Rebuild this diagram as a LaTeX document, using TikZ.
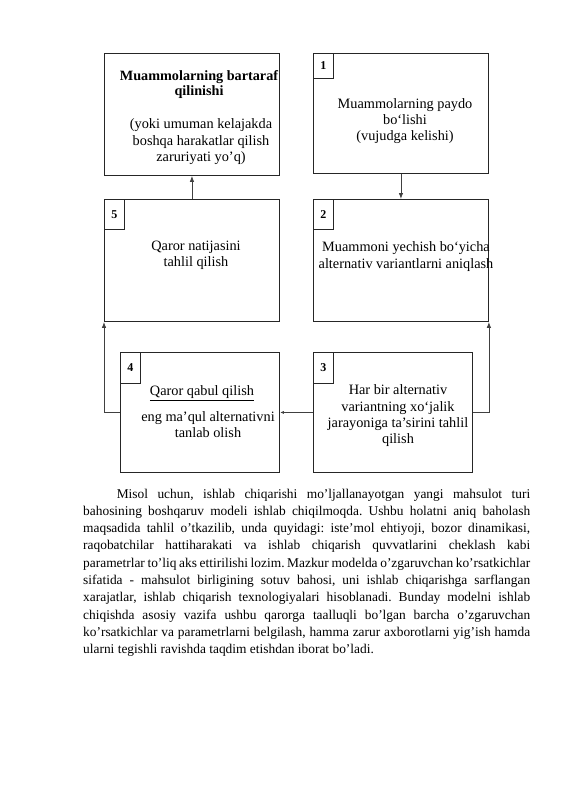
\documentclass[tikz,border=0pt]{standalone}
\usepackage{fontspec}
\setmainfont{Liberation Serif}
\usetikzlibrary{arrows.meta}

\tikzset{
  blok/.style={draw=black!85, line width=0.9pt, minimum width=175pt, minimum height=121pt, anchor=north west, inner sep=0pt},
  raqam/.style={draw=black!85, line width=0.8pt, minimum width=20pt, minimum height=30pt, anchor=north west, inner sep=0pt, font=\fontsize{12}{14}\selectfont\bfseries},
  matn/.style={align=center, inner sep=0pt, font=\fontsize{14.3}{16.3}\selectfont},
  bog/.style={draw=black!75, line width=0.8pt},
  uch/.style={-{Latex[length=6pt,width=4.5pt]}}
}

\begin{document}
\begin{tikzpicture}[x=1pt,y=-1pt]
  \useasboundingbox (0,0) rectangle (565,800);

  % Bloklar
  \node[blok, minimum height=122pt] (b0) at (104,53) {};
  \node[blok, minimum height=120pt] (b1) at (313,53) {};
  \node[blok, minimum height=122pt] (b5) at (104,199) {};
  \node[blok, minimum height=122pt] (b2) at (313,199) {};
  \node[blok, minimum width=159pt, minimum height=120pt] (b4) at (120,352) {};
  \node[blok, minimum width=159pt, minimum height=120pt] (b3) at (313,352) {};

  % Raqamlar
  \node[raqam, minimum height=25pt] (r1) at (b1.north west) {1};
  \node[raqam] (r2) at (b2.north west) {2};
  \node[raqam, minimum height=31pt] (r3) at (b3.north west) {3};
  \node[raqam, minimum height=31pt] (r4) at (b4.north west) {4};
  \node[raqam] (r5) at (b5.north west) {5};

  % Matnlar
  \node[matn, font=\fontsize{14.2}{15}\selectfont\bfseries] (t0a) at (199,84.5) {Muammolarning bartaraf\\qilinishi};
  \node[matn] (t0b) at (201,141.7) {(yoki umuman kelajakda\\boshqa harakatlar qilish\\zaruriyati yo’q)};
  \node[matn] (t1) at (405,121) {Muammolarning paydo\\bo‘lishi\\(vujudga kelishi)};
  \node[matn] (t5) at (196,255.5) {Qaror natijasini\\tahlil qilish};
  \node[matn] (t2) at (406,256.5) {Muammoni yechish bo‘yicha\\alternativ variantlarni aniqlash};
  \node[matn] (t4a) at (202,393) {\underline{Qaror qabul qilish}};
  \node[matn] (t4b) at (208,424.5) {eng ma’qul alternativni\\tanlab olish};
  \node[matn] (t3) at (398,416) {Har bir alternativ\\variantning xo‘jalik\\jarayoniga ta’sirini tahlil\\qilish};

  % Bog'lanishlar
  \draw[bog, uch] (b5.north) -- (b0.south);
  \draw[bog, uch] (b1.south) -- (b2.north);
  \draw[bog, uch] (b3.east) -| (b2.south east);
  \draw[bog, -{Latex[length=4pt,width=3pt]}] (b3.west) -- (b4.east);
  \draw[bog, uch] (b4.west) -| (b5.south west);

  % Abzas
  \node[anchor=north west, inner sep=0pt, text width=447pt, align=justify,
        font=\fontsize{13.4}{17.3}\selectfont] (abzas) at (83,488.5) {\frenchspacing\hyphenpenalty=10000\exhyphenpenalty=10000
    \spaceskip=0.25em plus 0.4em minus 0.1em\emergencystretch=20pt
    \hspace*{33.6pt}Misol uchun, ishlab chiqarishi mo’ljallanayotgan yangi mahsulot turi\linebreak
    bahosining boshqaruv modeli ishlab chiqilmoqda. Ushbu holatni aniq baholash\linebreak
    maqsadida tahlil o’tkazilib, unda quyidagi: iste’mol ehtiyoji, bozor dinamikasi,\linebreak
    raqobatchilar hattiharakati va ishlab chiqarish quvvatlarini cheklash kabi\linebreak
    parametrlar to’liq aks ettirilishi lozim. Mazkur modelda o’zgaruvchan ko’rsatkichlar\linebreak
    sifatida - mahsulot birligining sotuv bahosi, uni ishlab chiqarishga sarflangan\linebreak
    xarajatlar, ishlab chiqarish texnologiyalari hisoblanadi. Bunday modelni ishlab\linebreak
    chiqishda asosiy vazifa ushbu qarorga taalluqli bo’lgan barcha o’zgaruvchan\linebreak
    ko’rsatkichlar va parametrlarni belgilash, hamma zarur axborotlarni yig’ish hamda\linebreak
    ularni tegishli ravishda taqdim etishdan iborat bo’ladi.};
\end{tikzpicture}
\end{document}
